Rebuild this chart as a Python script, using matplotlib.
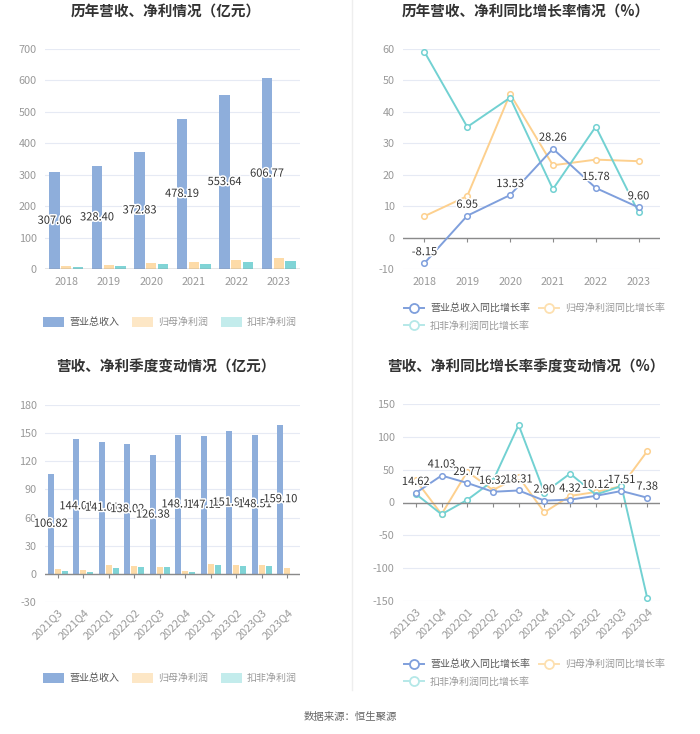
import numpy as np
import matplotlib
matplotlib.use("Agg")
import matplotlib.pyplot as plt
from matplotlib.patches import Patch
from matplotlib.lines import Line2D
import matplotlib.patheffects as pe

plt.rcParams['font.family'] = ['Noto Sans CJK SC', 'DejaVu Sans']
plt.rcParams['axes.unicode_minus'] = False

# ---- data ----
years = ['2018', '2019', '2020', '2021', '2022', '2023']
rev_year = [307.06, 328.40, 372.83, 478.19, 553.64, 606.77]
np_year = [10.9, 12.3, 17.9, 22.0, 27.5, 34.2]
dnp_year = [7.7, 10.4, 15.0, 17.3, 23.4, 25.3]

rev_yoy = [-8.15, 6.95, 13.53, 28.26, 15.78, 9.60]
np_yoy = [6.8, 13.2, 45.7, 23.0, 24.8, 24.3]
dnp_yoy = [59.1, 35.2, 44.5, 15.4, 35.3, 8.0]

quarters = ['2021Q3', '2021Q4', '2022Q1', '2022Q2', '2022Q3', '2022Q4',
            '2023Q1', '2023Q2', '2023Q3', '2023Q4']
rev_q = [106.82, 144.01, 141.01, 138.02, 126.38, 148.11, 147.11, 151.91, 148.51, 159.10]
np_q = [5.0, 4.0, 9.0, 8.2, 7.0, 3.5, 10.0, 9.7, 9.0, 6.6]
dnp_q = [3.2, 2.0, 6.5, 7.5, 6.8, 2.5, 9.6, 8.5, 8.8, -1.5]

rev_q_yoy = [14.62, 41.03, 29.77, 16.32, 18.31, 2.90, 4.32, 10.12, 17.51, 7.38]
np_q_yoy = [34, -18, 47, 19, 39, -15, 10, 16, 25, 78]
dnp_q_yoy = [13, -18, 4, 33, 118, 15, 44, 12, 25, -145]

bar_labels = ['营业总收入', '归母净利润', '扣非净利润']
line_labels = ['营业总收入同比增长率', '归母净利润同比增长率', '扣非净利润同比增长率']

# ---- style ----
W, H = 700, 734
BLUE, ORANGE, TEAL = '#8eaedb', '#fddba8', '#80d4d6'
LBLUE, LORANGE, LTEAL = '#7f9fdc', '#fdd08e', '#72d1d2'
GRID = '#e6eaf4'
TICKC = '#999999'

fig = plt.figure(figsize=(W / 100, H / 100), dpi=100)


def ax_px(left, top, right, bottom):
    return fig.add_axes([left / W, 1 - bottom / H, (right - left) / W, (bottom - top) / H])


def base_axis(ax, ymin, ymax, step, ncat, height_px, rotate=False):
    ax.set_xlim(-0.5, ncat - 0.5)
    ax.set_ylim(ymin, ymax)
    ax.set_yticks(np.arange(ymin, ymax + 0.1, step))
    ax.grid(axis='y', color=GRID, lw=0.8)
    ax.set_axisbelow(True)
    for s in ax.spines.values():
        s.set_visible(False)
    ax.tick_params(axis='both', length=0, colors=TICKC, labelsize=7.8)
    ax.tick_params(axis='y', pad=6)
    ax.axhline(0, color='#8a8a8a', lw=1, zorder=3)
    d = (ymax - ymin) / height_px * 4
    ax.vlines(np.arange(ncat), 0, -d, color='#8a8a8a', lw=0.8, zorder=3)
    ax.set_xticks(np.arange(ncat))
    ax.tick_params(axis='x', pad=4 if rotate else 6)


def rotate_labels(ax):
    for lab in ax.get_xticklabels():
        lab.set_rotation(45)
        lab.set_ha('right')
        lab.set_rotation_mode('anchor')


stroke = [pe.withStroke(linewidth=2.2, foreground='white')]


def bar_panel(ax, cats, rev, npf, dnp, width, off):
    x = np.arange(len(cats))
    ax.bar(x - off, rev, width, color=BLUE, zorder=2)
    ax.bar(x, npf, width, color=ORANGE, zorder=2)
    ax.bar(x + off, dnp, width, color=TEAL, zorder=2)
    for xi, v in zip(x, rev):
        ax.text(xi - off, v / 2, f'{v:.2f}', ha='center', va='center', fontsize=8,
                color='#333333', path_effects=stroke, zorder=5)


def line_panel(ax, cats, a, b, c, height_px, ymin, ymax):
    x = np.arange(len(cats))
    kw = dict(lw=1.4, marker='o', markersize=4, markerfacecolor='white', markeredgewidth=1.1)
    ax.plot(x, b, color=LORANGE, zorder=3, **kw)
    ax.plot(x, c, color=LTEAL, zorder=3, **kw)
    ax.plot(x, a, color=LBLUE, zorder=4, **kw)
    off = (ymax - ymin) / height_px * 11
    for xi, v in zip(x, a):
        ax.text(xi, v + off, f'{v:.2f}', ha='center', va='center', fontsize=8,
                color='#333333', path_effects=stroke, zorder=5)


def bar_legend(y_px, cx_px):
    handles = [Patch(facecolor=BLUE, edgecolor='none'),
               Patch(facecolor='#fde7c6', edgecolor='none'),
               Patch(facecolor='#c3ecec', edgecolor='none')]
    leg = fig.legend(handles, bar_labels, loc='center', ncol=3,
                     bbox_to_anchor=(cx_px / W, 1 - y_px / H), frameon=False,
                     fontsize=7.2, handlelength=2.1, handleheight=1.15,
                     columnspacing=1.3, handletextpad=0.5)
    for i, t in enumerate(leg.get_texts()):
        t.set_color('#555555' if i == 0 else '#999999')


def line_legend(top_px, left_px):
    cols = [LBLUE, '#fde0b0', '#b5e8e8']
    hs = [Line2D([0], [0], color=cc, lw=1.4, marker='o', markersize=6.5,
                 markerfacecolor='white', markeredgewidth=1.3) for cc in cols]
    labs = line_labels
    leg = fig.legend([hs[0], hs[2], hs[1]], [labs[0], labs[2], labs[1]],
                     loc='upper left', ncol=2,
                     bbox_to_anchor=(left_px / W, 1 - top_px / H), frameon=False,
                     fontsize=7.2, handlelength=2.0, columnspacing=0.9,
                     handletextpad=0.6, labelspacing=0.75)
    for t in leg.get_texts():
        t.set_color('#555555' if t.get_text() == labs[0] else '#999999')


def title(x_px, y_px, s):
    fig.text(x_px / W, 1 - y_px / H, s, ha='center', va='center', fontsize=10.5,
             fontweight='bold', color='#333333')


# ---- top left ----
ax1 = ax_px(45, 49, 300, 269)
bar_panel(ax1, years, rev_year, np_year, dnp_year, 0.24, 0.275)
base_axis(ax1, 0, 700, 100, 6, 220)
ax1.set_xticklabels(years)
title(166, 12, '历年营收、净利情况（亿元）')
bar_legend(322, 170)

# ---- top right ----
ax2 = ax_px(403, 49, 660, 269)
line_panel(ax2, years, rev_yoy, np_yoy, dnp_yoy, 220, -10, 60)
base_axis(ax2, -10, 60, 10, 6, 220)
ax2.set_xticklabels(years)
title(526, 12, '历年营收、净利同比增长率情况（%）')
line_legend(294, 395)

# ---- bottom left ----
ax3 = ax_px(45, 405, 300, 602)
bar_panel(ax3, quarters, rev_q, np_q, dnp_q, 0.24, 0.27)
base_axis(ax3, -30, 180, 30, 10, 197, rotate=True)
ax3.set_xticklabels(quarters)
rotate_labels(ax3)
title(166, 367, '营收、净利季度变动情况（亿元）')
bar_legend(678, 170)

# ---- bottom right ----
ax4 = ax_px(403, 404, 660, 601)
line_panel(ax4, quarters, rev_q_yoy, np_q_yoy, dnp_q_yoy, 197, -150, 150)
base_axis(ax4, -150, 150, 50, 10, 197, rotate=True)
ax4.set_xticklabels(quarters)
rotate_labels(ax4)
title(526, 367, '营收、净利同比增长率季度变动情况（%）')
line_legend(650, 395)

# separator and source
fig.add_artist(Line2D([352 / W, 352 / W], [1 - 690 / H, 1.0], color='#eeeeee', lw=1))
fig.text(0.5, 1 - 717 / H, '数据来源：恒生聚源', ha='center', va='center',
         fontsize=7.5, color='#666666')

fig.savefig('out.png', dpi=100)
